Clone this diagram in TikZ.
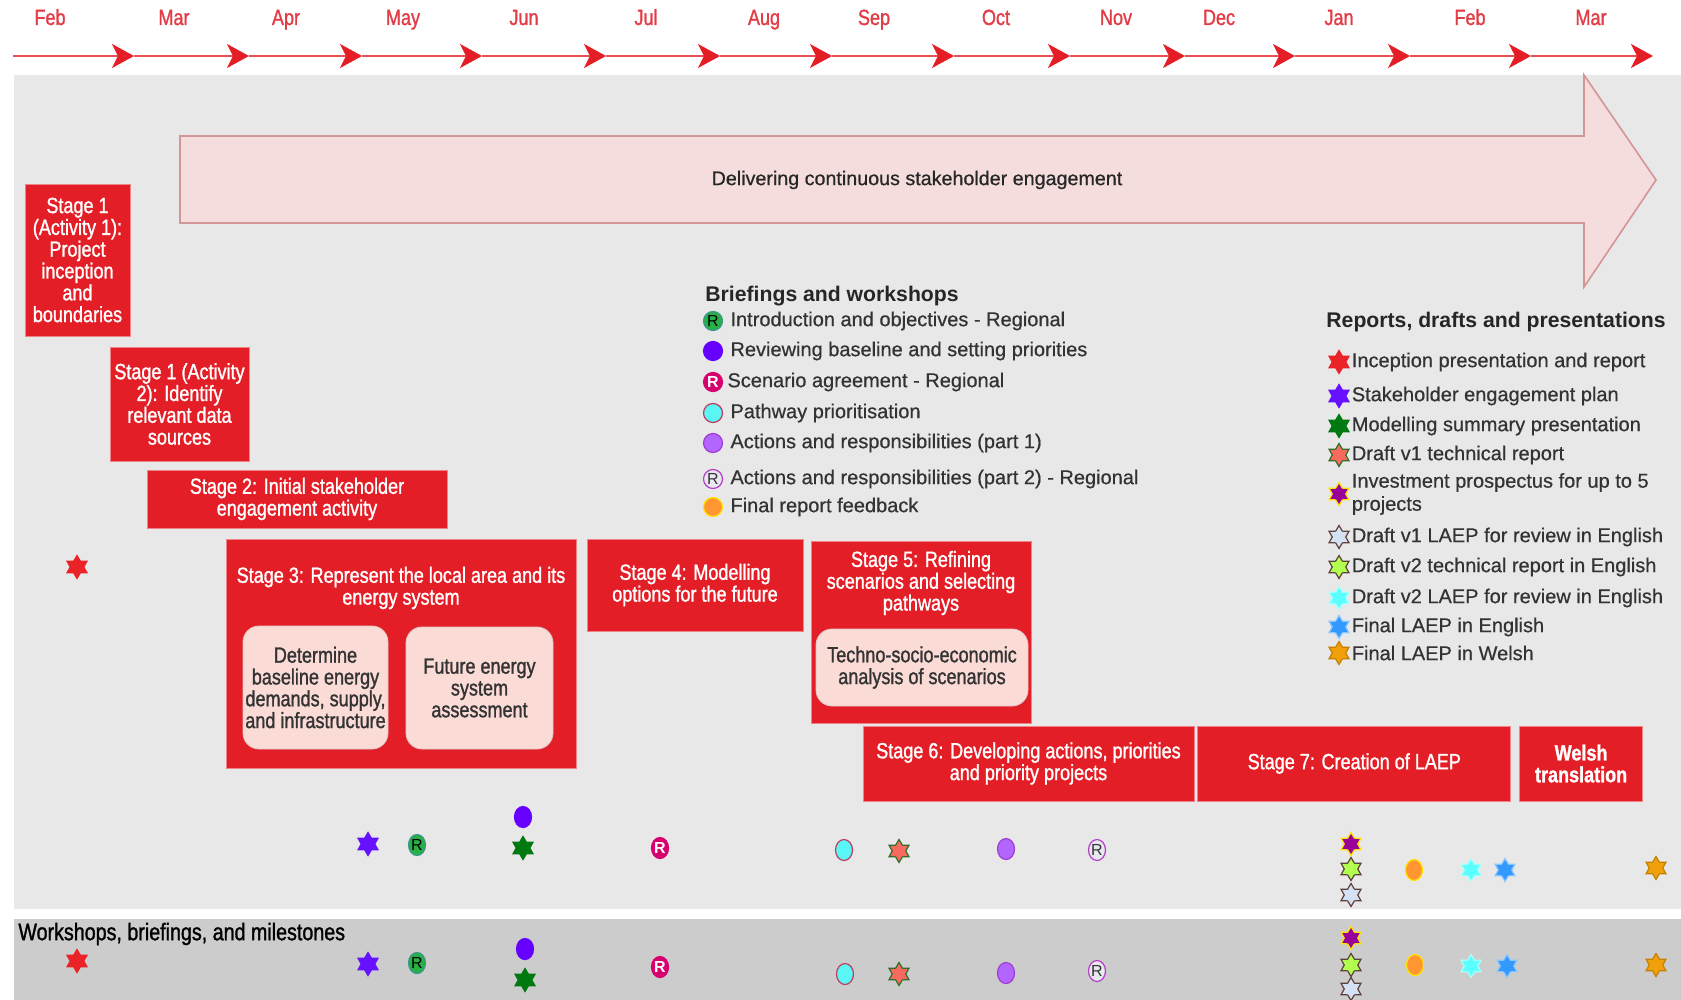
\documentclass[tikz,border=0pt]{standalone}
\usepackage{fontspec}
\setmainfont{Liberation Sans}
\newfontfamily\narrowfont{Liberation Sans}[FakeStretch=0.82, RawFeature={embolden=1.2}]
\newfontfamily\legfont{Liberation Sans}[RawFeature={embolden=0.6}]
\usepackage{xcolor}
\usepackage{tikz}
\usetikzlibrary{shapes.geometric, arrows.meta, positioning, calc}

\definecolor{stagered}{RGB}{228,30,38}
\definecolor{tlred}{RGB}{232,80,86}
\definecolor{monthred}{RGB}{226,60,70}
\definecolor{maingray}{RGB}{232,232,232}
\definecolor{bandgray}{RGB}{204,204,204}
\definecolor{arrowfill}{RGB}{245,221,221}
\definecolor{arrowline}{RGB}{210,150,150}
\definecolor{subpink}{RGB}{250,219,214}
\definecolor{subline}{RGB}{222,200,200}
\definecolor{textgray}{RGB}{51,51,51}
% briefing markers
\definecolor{cIntro}{RGB}{40,175,70}
\definecolor{cIntroLine}{RGB}{60,150,140}
\definecolor{cReview}{RGB}{102,0,255}
\definecolor{cScen}{RGB}{214,0,110}
\definecolor{cPath}{RGB}{90,245,245}
\definecolor{cPathLine}{RGB}{190,60,100}
\definecolor{cActA}{RGB}{178,102,255}
\definecolor{cActALine}{RGB}{160,60,210}
\definecolor{cActB}{RGB}{232,232,240}
\definecolor{cActBLine}{RGB}{180,60,200}
\definecolor{cFeed}{RGB}{255,150,50}
\definecolor{cFeedLine}{RGB}{255,230,0}
% report markers
\definecolor{cIncep}{RGB}{235,35,40}
\definecolor{cPlan}{RGB}{102,17,255}
\definecolor{cModel}{RGB}{0,122,16}
\definecolor{cTechA}{RGB}{248,106,94}
\definecolor{cTechALine}{RGB}{46,110,40}
\definecolor{cProsp}{RGB}{153,0,153}
\definecolor{cProspLine}{RGB}{255,230,0}
\definecolor{cLaepA}{RGB}{212,225,245}
\definecolor{cBrown}{RGB}{93,64,55}
\definecolor{cTechB}{RGB}{179,255,80}
\definecolor{cLaepB}{RGB}{90,255,255}
\definecolor{cLaepBLine}{RGB}{170,255,255}
\definecolor{cFinEn}{RGB}{51,153,255}
\definecolor{cFinEnLine}{RGB}{140,200,255}
\definecolor{cFinWe}{RGB}{240,160,10}
\definecolor{cFinWeLine}{RGB}{200,128,0}

\tikzset{
  stagebox/.style = {
    rectangle, fill=stagered, draw=stagered!55!white, line width=0.4pt,
    text=white, align=center, inner sep=1pt,
    font=\narrowfont\fontsize{11}{10.9}\selectfont
  },
  stagetext/.style = {
    text=white, align=center, inner sep=1pt,
    font=\narrowfont\fontsize{11}{10.9}\selectfont
  },
  subbox/.style = {
    rectangle, rounded corners=8pt, fill=subpink, draw=subline,
    text=textgray, align=center, inner sep=1pt,
    font=\narrowfont\fontsize{11}{10.9}\selectfont
  },
  month/.style  = {text=monthred, anchor=base,
    font=\narrowfont\fontsize{11}{12}\selectfont},
  tlarr/.style  = {tlred, line width=1pt,
    -{Stealth[length=11pt, width=12pt, inset=3pt, color=stagered]}},
  leghead/.style = {text=black!85, inner sep=1pt,
    font=\bfseries\fontsize{10.6}{12}\selectfont},
  legtext/.style = {text=textgray, inner sep=1pt, align=left,
    font=\legfont\fontsize{10}{11.5}\selectfont},
  % markers
  mstar/.style = {star, star points=6, star point ratio=1.7,
    minimum size=11.5pt, inner sep=0pt, line width=0.6pt},
  mdot/.style  = {ellipse, minimum width=8.5pt, minimum height=10.5pt,
    inner sep=0pt, line width=0.6pt, font=\fontsize{8}{8}\selectfont},
  legdot/.style = {minimum width=9.5pt, minimum height=9.5pt},
  intro/.style    = {mdot, fill=cIntro, draw=cIntroLine},
  review/.style   = {mdot, fill=cReview, draw=cReview},
  scen/.style     = {mdot, fill=cScen, draw=cScen, text=white,
    font=\bfseries\fontsize{8}{8}\selectfont},
  pathway/.style  = {mdot, fill=cPath, draw=cPathLine},
  actone/.style   = {mdot, fill=cActA, draw=cActALine},
  acttwo/.style   = {mdot, fill=cActB, draw=cActBLine, text=textgray},
  feedback/.style = {mdot, fill=cFeed, draw=cFeedLine},
  incep/.style    = {mstar, fill=cIncep, draw=cIncep},
  engplan/.style  = {mstar, fill=cPlan, draw=cPlan},
  model/.style    = {mstar, fill=cModel, draw=cModel},
  techone/.style  = {mstar, fill=cTechA, draw=cTechALine},
  prosp/.style    = {mstar, fill=cProsp, draw=cProspLine},
  laepone/.style  = {mstar, fill=cLaepA, draw=cBrown},
  techtwo/.style  = {mstar, fill=cTechB, draw=cBrown},
  laeptwo/.style  = {mstar, fill=cLaepB, draw=cLaepBLine},
  finen/.style    = {mstar, fill=cFinEn, draw=cFinEnLine},
  finwe/.style    = {mstar, fill=cFinWe, draw=cFinWeLine}
}

\begin{document}
\begin{tikzpicture}[x=0.5pt, y=-0.5pt]
\useasboundingbox (0,0) rectangle (1681,1000);

%% ── Backgrounds ──────────────────────────────────────
\fill[maingray] (14,75) rectangle (1681,909);
\fill[bandgray] (14,919) rectangle (1681,1000);

%% ── Timeline ─────────────────────────────────────────
\coordinate (t0) at (13,56);
\foreach \x [count=\i] in {134,249,362,482,606,720,832,954,1070,1185,1295,1410,1531,1653}
  \coordinate (t\i) at (\x,56);
\foreach \i [remember=\i as \j (initially 0)] in {1,...,14}
  \draw[tlarr] (t\j) -- (t\i);
\foreach \x/\m [count=\i] in {50/Feb,174/Mar,286/Apr,403/May,524/Jun,646/Jul,
    764/Aug,874/Sep,996/Oct,1116/Nov,1219/Dec,1339/Jan,1470/Feb,1591/Mar}
  \node[month] (m\i) at (\x,25) {\m};

%% ── Engagement arrow ─────────────────────────────────
\draw[fill=arrowfill, draw=arrowline, line width=0.8pt]
  (180,136) -- (1584,136) -- (1584,75) -- (1656,180)
  -- (1584,287) -- (1584,223) -- (180,223) -- cycle;
\node[text=black!85, font=\legfont\fontsize{9.85}{11}\selectfont]
  (engage) at (917,180) {Delivering continuous stakeholder engagement};

%% ── Stages 1 and 2 ───────────────────────────────────
\node[stagebox, minimum width=52.5pt, minimum height=76pt]
  (s1a) at (77.5,260)
  {Stage 1\\(Activity 1):\\Project\\inception\\and\\boundaries};
\node[stagebox, minimum width=69.5pt, minimum height=57pt]
  (s1b) at (179.5,404)
  {Stage 1 (Activity\\2): Identify\\relevant data\\sources};
\node[stagebox, minimum width=150pt, minimum height=29pt]
  (s2) at (297,499)
  {Stage 2: Initial stakeholder\\engagement activity};

%% ── Stage 3 ──────────────────────────────────────────
\node[stagebox, minimum width=175pt, minimum height=114.5pt]
  (s3) at (401,653.5) {};
\node[stagetext] (s3t) at (401,588)
  {Stage 3: Represent the local area and its\\energy system};
\node[subbox, minimum width=72.5pt, minimum height=61.5pt]
  (base) at (315.5,687.5)
  {Determine\\baseline energy\\demands, supply,\\and infrastructure};
\node[subbox, minimum width=73.5pt, minimum height=61pt]
  (future) at (479.5,688)
  {Future energy\\system\\assessment};

%% ── Stages 4 and 5 ───────────────────────────────────
\node[stagebox, minimum width=108pt, minimum height=46pt]
  (s4) at (695,585)
  {Stage 4: Modelling\\options for the future};
\node[stagebox, minimum width=110pt, minimum height=91pt]
  (s5) at (921,632) {};
\node[stagetext] (s5t) at (921,583)
  {Stage 5: Refining\\scenarios and selecting\\pathways};
\node[subbox, minimum width=106pt, minimum height=38.5pt]
  (tse) at (922,667.5)
  {Techno-socio-economic\\analysis of scenarios};

%% ── Stages 6, 7 and translation ──────────────────────
\node[stagebox, minimum width=165.5pt, minimum height=37.5pt]
  (s6) at (1028.5,763.5)
  {Stage 6: Developing actions, priorities\\and priority projects};
\node[stagebox, minimum width=156.5pt, minimum height=37.5pt,
      right=1.5pt of s6]
  (s7) {Stage 7: Creation of LAEP};
\node[stagebox, minimum width=61.5pt, minimum height=37.5pt,
      right=4pt of s7, font=\narrowfont\bfseries\fontsize{11}{10.9}\selectfont]
  (welsh) {Welsh\\translation};

%% ── Legend: briefings and workshops ──────────────────
\node[leghead, anchor=west] (bwhead) at (703,296) {Briefings and workshops};
\node[intro, legdot]    (lb1) at (713,321) {R};
\node[review, legdot]   (lb2) at (713,351) {};
\node[scen, legdot]     (lb3) at (713,382) {R};
\node[pathway, legdot]  (lb4) at (713,413) {};
\node[actone, legdot]   (lb5) at (713,443) {};
\node[acttwo, legdot]   (lb6) at (713,479) {R};
\node[feedback, legdot] (lb7) at (713,507) {};
\node[legtext, right=2.5pt of lb1] (lt1) {Introduction and objectives - Regional};
\node[legtext, right=2.5pt of lb2] (lt2) {Reviewing baseline and setting priorities};
\node[legtext, right=1pt of lb3]   (lt3) {Scenario agreement - Regional};
\node[legtext, right=2.5pt of lb4] (lt4) {Pathway prioritisation};
\node[legtext, right=2.5pt of lb5] (lt5) {Actions and responsibilities (part 1)};
\node[legtext, right=2.5pt of lb6] (lt6) {Actions and responsibilities (part 2) - Regional};
\node[legtext, right=2.5pt of lb7] (lt7) {Final report feedback};

%% ── Legend: reports, drafts and presentations ────────
\node[leghead, anchor=west] (rdhead) at (1324,322) {Reports, drafts and presentations};
\node[incep]   (lr1)  at (1339,362) {};
\node[engplan] (lr2)  at (1339,396) {};
\node[model]   (lr3)  at (1339,426) {};
\node[techone] (lr4)  at (1339,455) {};
\node[prosp]   (lr5)  at (1339,494) {};
\node[laepone] (lr6)  at (1339,537) {};
\node[techtwo] (lr7)  at (1339,567) {};
\node[laeptwo] (lr8)  at (1339,598) {};
\node[finen]   (lr9)  at (1339,627) {};
\node[finwe]   (lr10) at (1339,653) {};
\node[legtext, right=1.5pt of lr1]  (rt1)  {Inception presentation and report};
\node[legtext, right=1.5pt of lr2]  (rt2)  {Stakeholder engagement plan};
\node[legtext, right=1.5pt of lr3]  (rt3)  {Modelling summary presentation};
\node[legtext, right=1.5pt of lr4]  (rt4)  {Draft v1 technical report};
\node[legtext, right=1.5pt of lr5]  (rt5)  {Investment prospectus for up to 5\\projects};
\node[legtext, right=1.5pt of lr6]  (rt6)  {Draft v1 LAEP for review in English};
\node[legtext, right=1.5pt of lr7]  (rt7)  {Draft v2 technical report in English};
\node[legtext, right=1.5pt of lr8]  (rt8)  {Draft v2 LAEP for review in English};
\node[legtext, right=1.5pt of lr9]  (rt9)  {Final LAEP in English};
\node[legtext, right=1.5pt of lr10] (rt10) {Final LAEP in Welsh};

%% ── Milestones on the plan ───────────────────────────
\foreach \st/\x/\y/\t [count=\i] in {incep/77/567/{}, engplan/368/844/{},
    intro/417/845/R, review/523/817/{}, model/523/848/{}, scen/660/848/R,
    pathway/844/850/{}, techone/899/851/{}, actone/1006/849/{},
    acttwo/1097/850/R, prosp/1351/844/{}, techtwo/1351/869/{},
    laepone/1351/895/{}, feedback/1414/870/{}, laeptwo/1471/870/{},
    finen/1505/870/{}, finwe/1656/868/{}}
  \node[\st] (ma\i) at (\x,\y) {\t};

%% ── Milestones band ──────────────────────────────────
\node[anchor=west, inner sep=1pt, text=black,
      font=\narrowfont\fontsize{12}{12}\selectfont]
  (bandlbl) at (16,934) {Workshops, briefings, and milestones};
\foreach \st/\x/\y/\t [count=\i] in {incep/77/961/{}, engplan/368/964/{},
    intro/417/963/R, review/525/949/{}, model/525/980/{}, scen/660/967/R,
    pathway/845/974/{}, techone/899/974/{}, actone/1006/973/{},
    acttwo/1097/971/R, prosp/1351/938/{}, techtwo/1351/965/{},
    laepone/1351/989/{}, feedback/1415/965/{}, laeptwo/1471/966/{},
    finen/1507/966/{}, finwe/1656/965/{}}
  \node[\st] (mb\i) at (\x,\y) {\t};

\end{tikzpicture}
\end{document}
